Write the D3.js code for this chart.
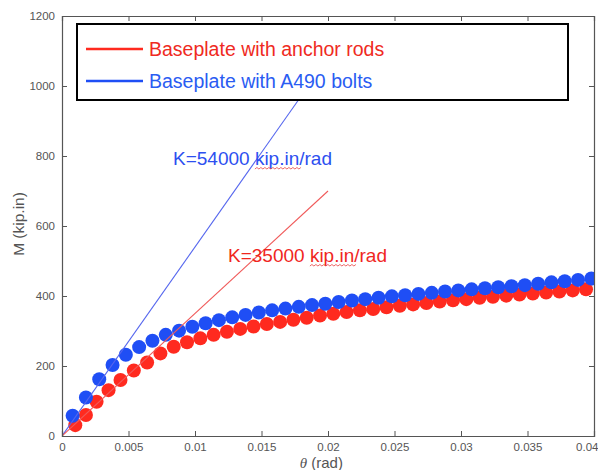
<!DOCTYPE html>
<html>
<head>
<meta charset="utf-8">
<script src="https://cdn.jsdelivr.net/npm/d3@7"></script>
<style>
  body { margin: 0; background: #fff; }
  svg { display: block; font-family: 'Liberation Sans', Arial, sans-serif; }
</style>
</head>
<body>
<svg class="chart" width="598" height="470"></svg>
<script>
// rotation (rad) and moment (kip.in)
const redTheta = [0.001, 0.0018, 0.0026, 0.0035, 0.0044, 0.0054, 0.0064, 0.0074,
  0.0084, 0.0094, 0.0104, 0.0114, 0.0124, 0.0134, 0.0144, 0.0154, 0.0164, 0.0174,
  0.0184, 0.0194, 0.0204, 0.0214, 0.0224, 0.0234, 0.0244, 0.0254, 0.0264, 0.0274,
  0.0284, 0.0294, 0.0304, 0.0314, 0.0324, 0.0334, 0.0344, 0.0354, 0.0364, 0.0374,
  0.0384, 0.0394];
const redM = [31, 60, 98, 131, 160, 187, 210, 236,
  255, 268, 279, 289, 298, 306, 313, 320, 326, 332,
  338, 344, 349, 354, 359, 363, 368, 372, 376, 380,
  384, 388, 391, 395, 398, 401, 404, 407, 410, 413,
  416, 419];

const blueTheta = [0.0008, 0.0018, 0.0028, 0.0038, 0.0048, 0.0058, 0.0068, 0.0078,
  0.0088, 0.0098, 0.0108, 0.0118, 0.0128, 0.0138, 0.0148, 0.0158, 0.0168, 0.0178,
  0.0188, 0.0198, 0.0208, 0.0218, 0.0228, 0.0238, 0.0248, 0.0258, 0.0268, 0.0278,
  0.0288, 0.0298, 0.0308, 0.0318, 0.0328, 0.0338, 0.0348, 0.0358, 0.0368, 0.0378,
  0.0388, 0.0398];
const blueM = [58, 110, 162, 203, 232, 254, 272, 289,
  301, 312, 322, 331, 339, 346, 353, 359, 364, 369,
  374, 378, 383, 387, 391, 395, 399, 402, 406, 409,
  413, 416, 419, 422, 425, 428, 431, 435, 439, 442,
  446, 450];

// initial stiffness lines: [theta, M] end points
const stiffRed = [[0, 0], [0.02, 700]];
const stiffBlue = [[0, 0], [0.02, 1080]];

const xTicks = [0, 0.005, 0.01, 0.015, 0.02, 0.025, 0.03, 0.035, 0.04];
const yTicks = [0, 200, 400, 600, 800, 1000, 1200];

const legendLabels = ['Baseplate with anchor rods', 'Baseplate with A490 bolts'];

const RED = '#ff2a1f', BLUE = '#1f4ef5';

const margin = {top: 16, right: 4, bottom: 34, left: 62};
const width = 598 - margin.left - margin.right;
const height = 470 - margin.top - margin.bottom;

const svg = d3.select('svg.chart');
const g = svg.append('g').attr('transform', `translate(${margin.left},${margin.top})`);

const x = d3.scaleLinear().domain([0, 0.04]).range([0, width]);
const y = d3.scaleLinear().domain([0, 1200]).range([height, 0]);

// markers
const redPts = redTheta.map((t, i) => [t, redM[i]]);
const bluePts = blueTheta.map((t, i) => [t, blueM[i]]);

g.append('clipPath').attr('id', 'plotclip')
  .append('rect').attr('x', 0).attr('y', 0).attr('width', width).attr('height', height);

const marks = g.append('g').attr('clip-path', 'url(#plotclip)');

marks.selectAll('circle.red').data(redPts).enter().append('circle')
  .attr('class', 'red')
  .attr('cx', d => x(d[0])).attr('cy', d => y(d[1])).attr('r', 7)
  .style('fill', RED);

marks.selectAll('circle.blue').data(bluePts).enter().append('circle')
  .attr('class', 'blue')
  .attr('cx', d => x(d[0])).attr('cy', d => y(d[1])).attr('r', 7)
  .style('fill', BLUE);

const line = d3.line().x(d => x(d[0])).y(d => y(d[1]));
marks.append('path').attr('d', line(stiffBlue))
  .style('fill', 'none').style('stroke', '#5566ee').style('stroke-width', 1.1);
marks.append('path').attr('d', line(stiffRed))
  .style('fill', 'none').style('stroke', '#f05a5a').style('stroke-width', 1.1);

// axes (matlab style box, ticks inside)
const axisColor = '#555';
const xAxisB = g.append('g').attr('transform', `translate(0,${height})`)
  .call(d3.axisBottom(x).tickValues(xTicks).tickSize(-5).tickPadding(7).tickFormat(d3.format('')));
const xAxisT = g.append('g')
  .call(d3.axisTop(x).tickValues(xTicks).tickSize(-5).tickFormat(''));
const yAxisL = g.append('g')
  .call(d3.axisLeft(y).tickValues(yTicks).tickSize(-5).tickPadding(7).tickFormat(d3.format('d')));
const yAxisR = g.append('g').attr('transform', `translate(${width},0)`)
  .call(d3.axisRight(y).tickValues(yTicks).tickSize(-5).tickFormat(''));

[xAxisB, xAxisT, yAxisL, yAxisR].forEach(a => {
  a.select('.domain').style('stroke', axisColor).style('stroke-width', 1.2);
  a.selectAll('.tick line').style('stroke', axisColor);
  a.selectAll('.tick text').style('fill', '#555').style('font-size', '11.5px')
    .style('font-family', "'Liberation Sans', Arial, sans-serif");
});
// last x label sits at the right edge; keep it inside the picture
xAxisB.selectAll('.tick text').filter(d => d === 0.04).attr('text-anchor', 'end').attr('dx', 4);

// axis labels
svg.append('text')
  .attr('transform', `translate(24,${margin.top + y(600) - 2}) rotate(-90)`)
  .attr('text-anchor', 'middle')
  .style('font-size', '15.5px').style('fill', '#555')
  .text('M (kip.in)');

const xl = svg.append('text')
  .attr('x', margin.left + x(0.0195)).attr('y', 468)
  .attr('text-anchor', 'middle')
  .style('font-size', '15px').style('fill', '#555');
xl.append('tspan').style('font-style', 'italic').style('font-family', "'Liberation Serif', serif").text('θ');
xl.append('tspan').text(' (rad)');

// legend
const leg = svg.append('g');
leg.append('rect')
  .attr('x', 77).attr('y', 24).attr('width', 491).attr('height', 76)
  .style('fill', '#fff').style('stroke', '#000').style('stroke-width', 2);

[RED, BLUE].forEach((c, i) => {
  const ly = 49 + i * 32;
  leg.append('line')
    .attr('x1', 86).attr('x2', 143).attr('y1', ly).attr('y2', ly)
    .style('stroke', c).style('stroke-width', 2.5);
  leg.append('text')
    .attr('x', 149).attr('y', ly + 7)
    .style('font-size', '19.5px').style('fill', i === 0 ? '#ef2a22' : '#2a5cf2')
    .text(legendLabels[i]);
});

// stiffness annotations with spell-check squiggle under "kip.in"
function annotate(px, py, k, color) {
  const t = svg.append('text').attr('x', px).attr('y', py)
    .style('font-size', '19px').style('fill', color);
  t.append('tspan').text(`K=${k} `);
  t.append('tspan').text('kip.in');
  t.append('tspan').text('/rad');
  const pre = `K=${k} `.length;
  const node = t.node();
  const x0 = px + node.getSubStringLength(0, pre);
  const w = node.getSubStringLength(pre, 6);
  let d = `M${x0},${py + 4}`;
  for (let s = 0, up = true; s < w; s += 2, up = !up) {
    d += `L${x0 + s + 2},${py + (up ? 2.5 : 4)}`;
  }
  svg.append('path').attr('d', d)
    .style('fill', 'none').style('stroke', '#e84040').style('stroke-width', 0.8);
}
annotate(173, 165, 54000, '#2d4ff0');
annotate(228, 262, 35000, '#f0261e');
</script>
</body>
</html>
